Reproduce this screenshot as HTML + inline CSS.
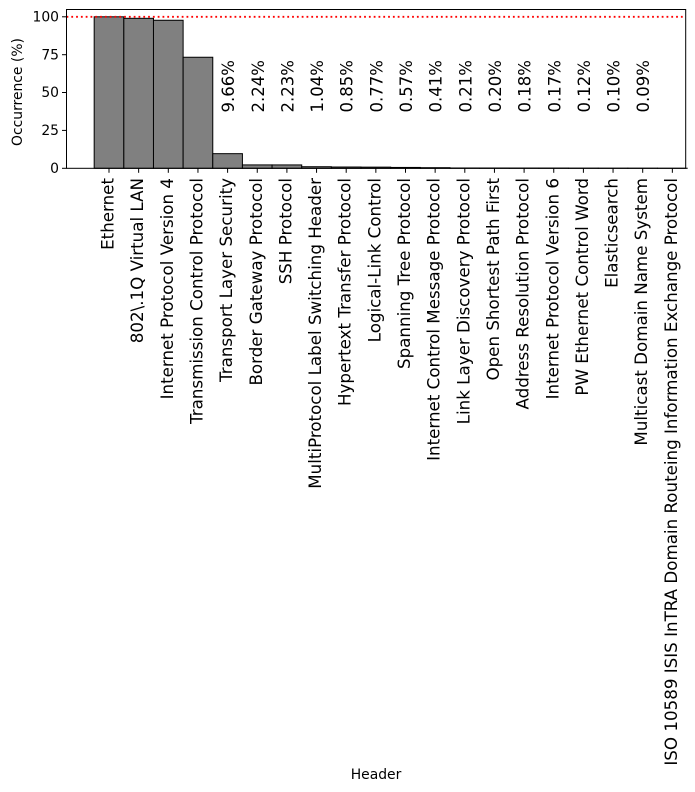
<!DOCTYPE html>
<html><head><meta charset="utf-8"><style>
html,body{margin:0;padding:0;background:#fff}
svg{display:block;font-family:"DejaVu Sans","Liberation Sans",sans-serif}
</style></head><body>
<svg width="695" height="792" viewBox="0 0 695 792" xmlns="http://www.w3.org/2000/svg">
<g id="bars" fill="#808080" stroke="#000" stroke-width="1"></g>
<line x1="66.5" y1="16.8" x2="685.7" y2="16.8" stroke="#ff0000" stroke-width="1.8" stroke-dasharray="1.8,3"/>
<rect x="66.5" y="9.5" width="619.2" height="158.8" fill="none" stroke="#000" stroke-width="1"/>
<g font-size="13.9" text-anchor="end" fill="#000">
<line x1="62" y1="168.3" x2="66.5" y2="168.3" stroke="#000"/><text x="59" y="173">0</text>
<line x1="62" y1="130.4" x2="66.5" y2="130.4" stroke="#000"/><text x="59" y="135.1">25</text>
<line x1="62" y1="92.5" x2="66.5" y2="92.5" stroke="#000"/><text x="59" y="97.2">50</text>
<line x1="62" y1="54.7" x2="66.5" y2="54.7" stroke="#000"/><text x="59" y="59.4">75</text>
<line x1="62" y1="16.8" x2="66.5" y2="16.8" stroke="#000"/><text x="59" y="21.5">100</text>
</g>
<text transform="translate(22,92) rotate(-90)" font-size="13.9" text-anchor="middle">Occurrence (%)</text>
<text x="376" y="779" font-size="13.9" text-anchor="middle">Header</text>
<g id="xl"></g>
<script>
var names=["Ethernet","802\\.1Q Virtual LAN","Internet Protocol Version 4","Transmission Control Protocol","Transport Layer Security","Border Gateway Protocol","SSH Protocol","MultiProtocol Label Switching Header","Hypertext Transfer Protocol","Logical-Link Control","Spanning Tree Protocol","Internet Control Message Protocol","Link Layer Discovery Protocol","Open Shortest Path First","Address Resolution Protocol","Internet Protocol Version 6","PW Ethernet Control Word","Elasticsearch","Multicast Domain Name System","ISO 10589 ISIS InTRA Domain Routeing Information Exchange Protocol"];
var vals=[100,99,97.7,73.3,9.66,2.24,2.23,1.04,0.85,0.77,0.57,0.41,0.21,0.20,0.18,0.17,0.12,0.10,0.09,0.05];
var ns="http://www.w3.org/2000/svg",b=document.getElementById("bars"),g=document.getElementById("xl");
var w=29.65;
for(var i=0;i<20;i++){
 var cx=109+i*w,h=vals[i]*1.515;
 var r=document.createElementNS(ns,"rect");
 r.setAttribute("x",cx-w/2);r.setAttribute("y",168.3-h);r.setAttribute("width",w);r.setAttribute("height",h);
 b.appendChild(r);
 var t=document.createElementNS(ns,"line");
 t.setAttribute("x1",cx);t.setAttribute("x2",cx);t.setAttribute("y1",168.3);t.setAttribute("y2",172.8);t.setAttribute("stroke","#000");
 g.appendChild(t);
 var tx=document.createElementNS(ns,"text");
 tx.setAttribute("transform","translate("+(cx-1.5)+",178) rotate(-90)");
 tx.setAttribute("text-anchor","end");tx.setAttribute("dominant-baseline","central");tx.setAttribute("font-size","16.7");
 tx.textContent=names[i];g.appendChild(tx);
 if(i>=4&&i<=18){
  var p=document.createElementNS(ns,"text");
  p.setAttribute("transform","translate("+(cx+1)+",112.5) rotate(-90)");
  p.setAttribute("text-anchor","start");p.setAttribute("dominant-baseline","central");p.setAttribute("font-size","16.5");
  p.textContent=vals[i].toFixed(2)+"%";g.appendChild(p);
 }
}
</script>
</svg>
</body></html>
